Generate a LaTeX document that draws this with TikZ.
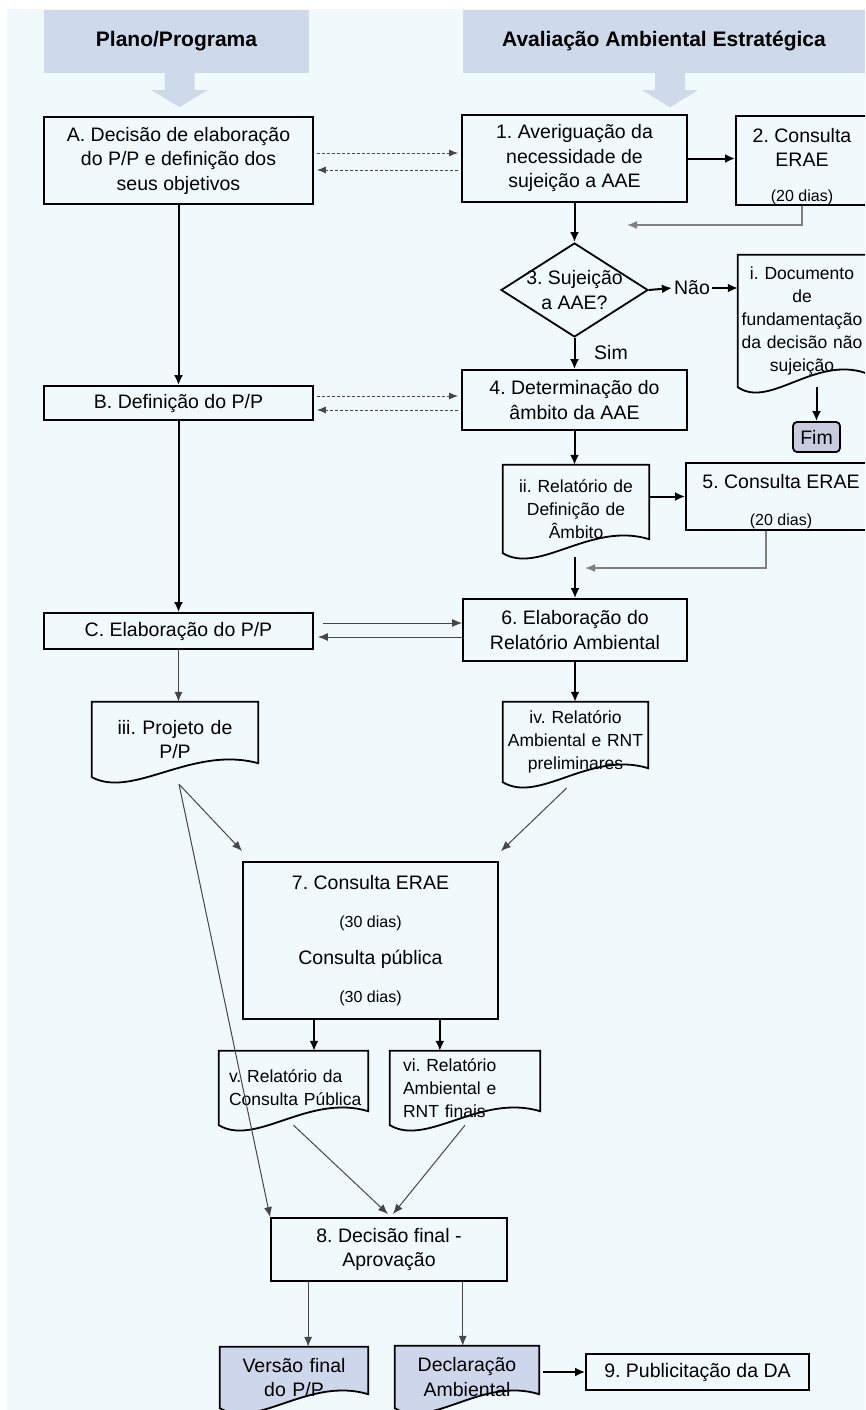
\documentclass[tikz,border=0pt]{standalone}
\usepackage{fontspec}
\setmainfont{Liberation Sans}
\usetikzlibrary{calc,arrows.meta,shapes.geometric,backgrounds}
\frenchspacing

\definecolor{fundo}{RGB}{240,250,253}
\definecolor{cabec}{RGB}{206,218,233}
\definecolor{docazul}{RGB}{205,214,234}
\definecolor{fimcor}{RGB}{199,204,222}
\definecolor{cinza}{RGB}{128,128,128}
\definecolor{traco}{RGB}{70,70,70}

\newcommand{\fcab}{\fontsize{21}{25}\selectfont\bfseries}
\newcommand{\fcaixa}{\fontsize{19.5}{24.5}\selectfont}
\newcommand{\fdoc}{\fontsize{17.5}{23}\selectfont}
\newcommand{\fpeq}{\fontsize{16}{18}\selectfont}

% contorno de documento (base ondulada)
\newcommand{\documento}[2][]{%
  \path[#1] (#2.south west) -- (#2.north west) -- (#2.north east)
    -- ($(#2.south east)+(0,-14)$)
    .. controls ($(#2.south west)!0.6!(#2.south east)+(0,-32)$)
    and ($(#2.south west)!0.25!(#2.south east)+(0,22)$) .. (#2.south west) -- cycle;}

\tikzset{
  cabecalho/.style={fill=cabec, font=\fcab, inner sep=0pt},
  caixa/.style={draw, line width=1.8pt, font=\fcaixa, align=center, inner sep=0pt},
  doc/.style={font=\fdoc, align=center, inner sep=0pt},
  seta/.style={line width=2pt, -{Latex[length=10pt,width=9pt]}},
  setafina/.style={line width=1pt, draw=traco, -{Latex[length=10pt,width=8pt]}},
  tracejado/.style={line width=1pt, draw=traco, dash pattern=on 3pt off 2pt,
    -{Latex[length=9pt,width=7pt]}, shorten <=3pt, shorten >=3pt},
  retorno/.style={line width=1.4pt, draw=cinza, -{Latex[length=10pt,width=8pt]}},
}

\begin{document}
\begin{tikzpicture}[x=1pt,y=-1pt]
    \useasboundingbox (0,0) rectangle (865,1410);
    \clip (0,0) rectangle (865,1410);

    % cabecalhos
    \node[cabecalho, minimum width=265pt, minimum height=63pt] (cabPP) at (176.5,41.5) {Plano/Programa};
    \node[cabecalho, minimum width=402pt, minimum height=63pt] (cabAAE) at (664,41.5) {Avaliação Ambiental Estratégica};
    \foreach \c/\dx in {cabPP/3, cabAAE/6}
        \fill[cabec] ($(\c.south)+(\dx-15,-1)$) -- ++(0,18) -- ++(-13,0) -- ++(28,17)
            -- ++(28,-17) -- ++(-13,0) -- ++(0,-18) -- cycle;

    % caixas e documentos
    \node[caixa, minimum width=269pt, minimum height=87pt] (A) at (178.5,160.5) {A. Decisão de elaboração\\do P/P e definição dos\\seus objetivos};
    \node[caixa, minimum width=225pt, minimum height=87pt] (averig) at (574.5,158.5) {1. Averiguação da\\necessidade de\\sujeição a AAE};
    \node[caixa, minimum width=132pt, minimum height=89pt] (consulta2) at (802,160.5) {\rule{0pt}{26pt}2. Consulta\\ERAE\\[10pt]{\fpeq (20 dias)}};
    \node[draw, diamond, line width=1.8pt, minimum width=147pt, minimum height=94pt, inner sep=0pt,
        label={[font=\fcaixa, align=center]center:3. Sujeição\\a AAE?}] (sujeicao) at (574.5,290) {};
    \node[font=\fcaixa, inner sep=2pt] (nao) at (692,288) {Não};
    \node[font=\fcaixa] (sim) at (611,353) {Sim};
    \node[doc, text width=128pt, minimum height=132pt] (docI) at (802,321) {i. Documento\\de\\fundamentação\\da decisão não\\sujeição};
    \node[draw, line width=1.8pt, fill=fimcor, rounded corners=4pt, font=\fcaixa,
        minimum width=47pt, minimum height=30pt, inner sep=0pt] (fim) at (816.5,437) {Fim};
    \node[caixa, minimum width=225pt, minimum height=60pt] (ambito) at (574.5,400) {4. Determinação do\\âmbito da AAE};
    \node[caixa, minimum width=269pt, minimum height=34pt] (B) at (178.5,403) {B. Definição do P/P};
    \node[doc, text width=146pt, minimum height=88pt] (rda) at (576,509) {ii. Relatório de\\Definição de\\Âmbito};
    \node[caixa, minimum width=190pt, minimum height=67pt] (consulta5) at (781,496.5) {\rule{0pt}{24pt}5. Consulta ERAE\\[12pt]{\fpeq (20 dias)}};
    \node[caixa, minimum width=224pt, minimum height=62pt] (elabRA) at (575,630) {6. Elaboração do\\Relatório Ambiental};
    \node[caixa, minimum width=269pt, minimum height=36pt] (C) at (178.5,631) {C. Elaboração do P/P};
    \node[doc, font=\fcaixa, text width=166pt, minimum height=75pt] (projeto) at (175,739.5) {iii. Projeto de\\P/P};
    \node[doc, text width=145pt, minimum height=80pt] (raPrel) at (575.5,742) {iv. Relatório\\Ambiental e RNT\\preliminares};
    \node[caixa, minimum width=255pt, minimum height=157pt] (consulta7) at (370.5,940.5) {7. Consulta ERAE\\[13pt]{\fpeq (30 dias)}\\[13pt]Consulta pública\\[13pt]{\fpeq (30 dias)}};
    \node[doc, align=left, text width=137pt, inner xsep=6pt, minimum height=74pt] (relCP) at (293.5,1088) {\hspace*{4pt}v. Relatório da\\\hspace*{4pt}Consulta Pública};
    \node[doc, align=left, text width=124pt, inner xsep=13pt, minimum height=74pt] (raFin) at (465,1088) {vi. Relatório\\Ambiental e\\RNT finais};
    \node[caixa, minimum width=236pt, minimum height=63pt] (decisao) at (389,1249.5) {8. Decisão final -\\Aprovação};
    \node[doc, font=\fcaixa, text width=148pt, minimum height=61pt] (versao) at (294,1377.5) {Versão final\\do P/P};
    \node[doc, font=\fcaixa, text width=144pt, minimum height=62pt] (declar) at (467,1377) {Declaração\\Ambiental};
    \node[caixa, minimum width=223pt, minimum height=36pt] (public) at (697.5,1372) {9. Publicitação da DA};

    \foreach \d in {docI,rda,projeto,raPrel,relCP,raFin,versao,declar}
        {\documento[draw,line width=1.8pt]{\d}}

    % ligacoes
    \draw[seta] (A) -- (B);
    \draw[seta] (B) -- (C);
    \draw[setafina] (C.south) -- (C.south |- projeto.north);
    \draw[tracejado] (A.east |- 0,153) -- (averig.west |- 0,153);
    \draw[tracejado] (averig.west |- 0,170) -- (A.east |- 0,170);
    \draw[seta] (averig.east) -- (averig.east -| consulta2.west);
    \draw[seta] (averig) -- (sujeicao);
    \coordinate (ret2) at (627,225);
    \draw[retorno] (consulta2.south) |- (ret2);
    \draw[seta] (sujeicao.east) -- (nao.west);
    \draw[seta] (nao.east) -- (nao.east -| docI.west);
    \draw[seta] (sujeicao) -- (ambito);
    \draw[seta] (docI.south -| fim.north) -- (fim.north);
    \draw[tracejado] (B.east |- 0,396) -- (ambito.west |- 0,396);
    \draw[tracejado] (ambito.west |- 0,410) -- (B.east |- 0,410);
    \draw[seta] (ambito.south) -- (ambito.south |- rda.north);
    \draw[seta] (rda.east |- consulta5.west) -- (consulta5.west);
    \coordinate (ret5) at (585,568);
    \draw[retorno] ([xshift=-15pt]consulta5.south) |- (ret5);
    \draw[seta] ($(elabRA.north |- rda.south)+(0,4)$) -- (elabRA.north);
    \draw[setafina, shorten <=9pt] (C.east |- 0,623) -- (elabRA.west |- 0,623);
    \draw[setafina, shorten >=4pt] (elabRA.west |- 0,637) -- (C.east |- 0,637);
    \draw[seta] (elabRA.south) -- (elabRA.south |- raPrel.north);
    \coordinate (saiIII) at ($(projeto.south)+(4,7)$);
    \draw[setafina] (saiIII) -- ($(consulta7.north west)+(0,-10)$);
    \draw[setafina] (saiIII) -- (decisao.north west);
    \draw[setafina] ($(raPrel.south)+(-9,6)$) -- ($(consulta7.north east)+(2,-10)$);
    \coordinate (s7a) at ($(consulta7.south west)!0.28!(consulta7.south east)$);
    \coordinate (s7b) at ($(consulta7.south west)!0.77!(consulta7.south east)$);
    \draw[seta] (s7a) -- (s7a |- relCP.north);
    \draw[seta] (s7b) -- (s7b |- raFin.north);
    \draw[setafina] (relCP.south) -- ($(decisao.north)+(-1,-3)$);
    \draw[setafina] (raFin.south) -- ($(decisao.north)+(4,-3)$);
    \coordinate (s8a) at ($(decisao.south west)!0.16!(decisao.south east)$);
    \coordinate (s8b) at ($(decisao.south west)!0.81!(decisao.south east)$);
    \draw[setafina] (s8a) -- (s8a |- versao.north);
    \draw[setafina] (s8b) -- (s8b |- declar.north);
    \draw[seta, shorten <=4pt] (declar.east |- public.west) -- (public.west);

    \begin{scope}[on background layer]
        \fill[fundo] (7,9) rectangle (865,1410);
        \documento[fill=docazul]{versao}
        \documento[fill=docazul]{declar}
    \end{scope}
\end{tikzpicture}
\end{document}
